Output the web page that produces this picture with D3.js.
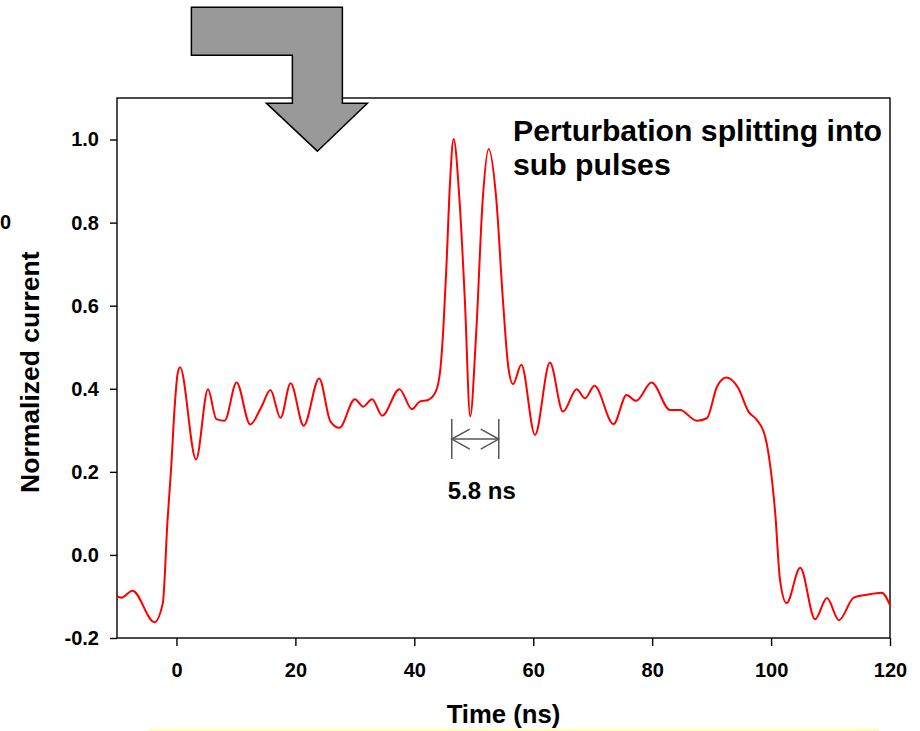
<!DOCTYPE html>
<html>
<head>
<meta charset="utf-8">
<script src="https://cdn.jsdelivr.net/npm/d3@7"></script>
<style>
  body { margin: 0; background: #fff; }
  svg text { font-family: "Liberation Sans", Arial, sans-serif; font-weight: bold; fill: #000; }
</style>
</head>
<body>
<div class="chart"></div>
<script>
// time axis (ns) and normalized current
var times = [-10, -9.3, -7.4, -3.7, -2.3, -1.5, -0.9, -0.3, 0.2, 0.6, 3.3, 5.3, 6.7, 8.1, 10.1, 12.4, 14.3, 15.8, 17.5, 19.2,
  21.4, 24.0, 25.9, 27.4, 30.0, 31.4, 32.9, 34.6, 37.5, 39.6, 40.9, 42.3, 43.6, 44.4, 44.9, 45.4, 46.0, 46.6, 47.6, 48.5,
  49.4, 50.4, 51.5, 52.5, 53.8, 54.9, 55.8, 56.6, 58.0, 60.3, 62.8, 65.0, 67.3, 68.7, 70.3, 73.5, 75.7, 77.3, 79.9, 83.0,
  84.7, 87.5, 89.2, 90.9, 92.5, 94.5, 96.2, 97.6, 99.0, 99.8, 100.7, 101.5, 102.6, 104.9, 107.4, 109.4, 111.4, 113.9, 116.1, 118.6, 120]
var current = [-0.100, -0.103, -0.086, -0.162, -0.116, 0.084, 0.208, 0.357, 0.437, 0.452, 0.230, 0.399, 0.327, 0.323, 0.415, 0.314, 0.357, 0.397, 0.330, 0.413,
  0.311, 0.425, 0.321, 0.306, 0.375, 0.357, 0.375, 0.335, 0.399, 0.351, 0.369, 0.373, 0.393, 0.450, 0.550, 0.694, 0.895, 1.001, 0.854, 0.614,
  0.334, 0.533, 0.854, 0.977, 0.854, 0.614, 0.453, 0.411, 0.458, 0.289, 0.463, 0.345, 0.399, 0.377, 0.407, 0.315, 0.385, 0.371, 0.415, 0.349,
  0.349, 0.323, 0.329, 0.405, 0.427, 0.401, 0.345, 0.325, 0.285, 0.221, 0.100, -0.060, -0.116, -0.031, -0.155, -0.104, -0.157, -0.103, -0.096, -0.091, -0.121]

var xTicks = [0, 20, 40, 60, 80, 100, 120]
var yTicks = [-0.2, 0.0, 0.2, 0.4, 0.6, 0.8, 1.0]

var xTitle = "Time (ns)"
var yTitle = "Normalized current"
var noteLines = ["Perturbation splitting into", "sub pulses"]
var widthLabel = "5.8 ns"
var widthSpan = [46.3, 54.2]   // ns, ends of the dimension marker

var W = 920, H = 731
var margin = {top: 98, right: 30, bottom: 93, left: 117}
var w = W - margin.left - margin.right
var h = H - margin.top - margin.bottom

var svg = d3.select(".chart").append("svg")
  .attr("width", W)
  .attr("height", H)

var g = svg.append("g")
  .attr("transform", `translate(${margin.left},${margin.top})`)

var x = d3.scaleLinear().domain([-10, 120]).range([0, w])
var y = d3.scaleLinear().domain([-0.2, 1.1]).range([h, 0])

// axes
var fmtY = d3.format(".1f")
var xAxis = g.append("g")
  .attr("transform", `translate(0,${h})`)
  .call(d3.axisBottom(x).tickValues(xTicks).tickSize(8).tickPadding(17).tickSizeOuter(0).tickFormat(d3.format("d")))
var yAxis = g.append("g")
  .call(d3.axisLeft(y).tickValues(yTicks).tickSize(7).tickPadding(11).tickSizeOuter(0)
    .tickFormat(d => fmtY(d).replace("\u2212", "-")))

g.selectAll(".domain").remove()
g.selectAll(".tick line").attr("stroke", "#000").attr("stroke-width", 1.4)
g.selectAll(".tick text").style("font-size", "20px").attr("fill", "#000")

// frame
g.append("rect")
  .attr("width", w)
  .attr("height", h)
  .attr("fill", "none")
  .attr("stroke", "#000")
  .attr("stroke-width", 1.4)

// trace
var line = d3.line()
  .x(d => x(d[0]))
  .y(d => y(d[1]))
  .curve(d3.curveMonotoneX)

g.append("path")
  .datum(times.map((t, i) => [t, current[i]]))
  .attr("d", line)
  .attr("fill", "none")
  .attr("stroke", "#ff0000")
  .attr("stroke-width", 2)

// axis titles
svg.append("text")
  .attr("x", margin.left + x(55))
  .attr("y", 723)
  .attr("text-anchor", "middle")
  .style("font-size", "25.7px")
  .text(xTitle)

svg.append("text")
  .attr("transform", `translate(39,${margin.top + y(0.44)}) rotate(-90)`)
  .attr("text-anchor", "middle")
  .style("font-size", "26.5px")
  .text(yTitle)

// stray clipped label at far left
svg.append("text")
  .attr("x", 0)
  .attr("y", margin.top + y(0.8))
  .attr("dy", "0.32em")
  .style("font-size", "20px")
  .text("0")

// yellow rule below the title
svg.append("line")
  .attr("x1", 149).attr("x2", 879)
  .attr("y1", 730).attr("y2", 730)
  .attr("stroke", "#ffff99")
  .attr("stroke-width", 1.5)

// annotation text
var note = g.append("text")
  .attr("x", x(56.6))
  .attr("y", y(0.996))
  .style("font-size", "30.2px")
note.selectAll("tspan")
  .data(noteLines)
  .enter()
  .append("tspan")
  .attr("x", x(56.6))
  .attr("dy", (d, i) => i == 0 ? 0 : 34)
  .text(d => d)

// dimension marker between the sub pulses
var mx0 = x(widthSpan[0]), mx1 = x(widthSpan[1]), my = y(0.279)
var dim = g.append("g").attr("stroke", "#555").attr("stroke-width", 1.5).attr("fill", "none")
dim.selectAll("line.end")
  .data(widthSpan)
  .enter()
  .append("line")
  .attr("x1", d => x(d)).attr("x2", d => x(d))
  .attr("y1", my - 20).attr("y2", my + 20)
dim.append("line")
  .attr("x1", mx0).attr("x2", mx1)
  .attr("y1", my).attr("y2", my)
dim.append("path").attr("d", `M${mx0 + 18},${my - 10}L${mx0},${my}L${mx0 + 18},${my + 10}`)
dim.append("path").attr("d", `M${mx1 - 18},${my - 10}L${mx1},${my}L${mx1 - 18},${my + 10}`)

g.append("text")
  .attr("x", x(51.35))
  .attr("y", y(0.135))
  .attr("text-anchor", "middle")
  .style("font-size", "24px")
  .text(widthLabel)

// big bent arrow, anchored at its tip
var tipX = x(23.7), tipY = y(0.972)
var arrowShape = [[-126, -144], [25, -144], [25, -48], [50, -48], [0, 0], [-51, -48], [-25, -48], [-25, -96], [-126, -96]]
g.append("polygon")
  .attr("points", arrowShape.map(p => [tipX + p[0], tipY + p[1]].join(",")).join(" "))
  .attr("fill", "#999999")
  .attr("stroke", "#000")
  .attr("stroke-width", 1.5)
  .attr("stroke-linejoin", "miter")
</script>
</body>
</html>
